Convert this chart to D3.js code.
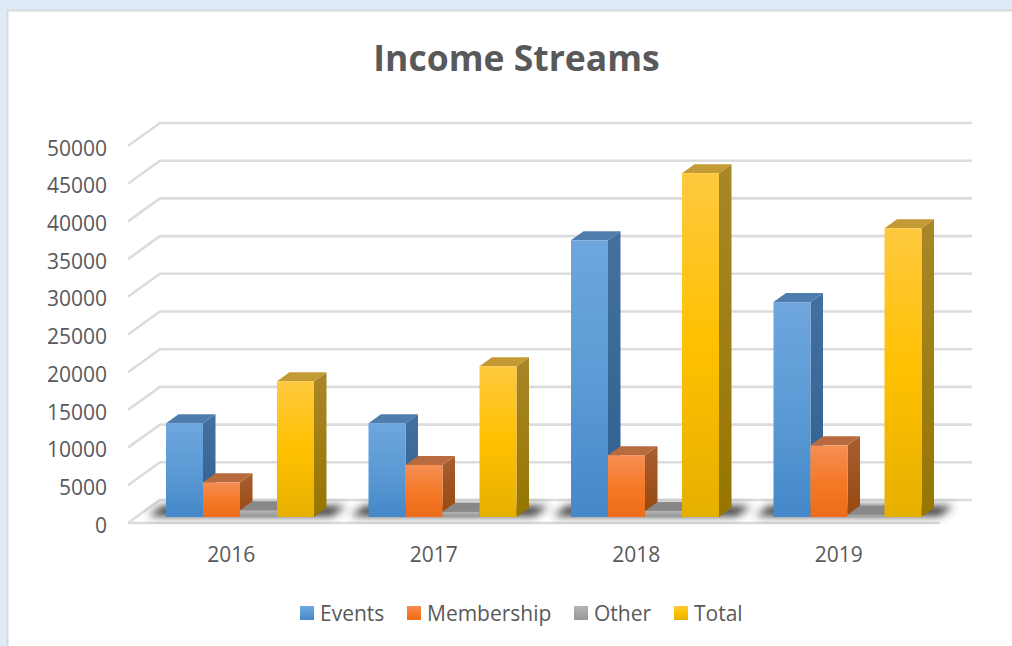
<!DOCTYPE html>
<html>
<head>
<meta charset="utf-8">
<script src="https://cdn.jsdelivr.net/npm/d3@7"></script>
<style>
  html, body { margin: 0; padding: 0; background: #deeaf6; overflow: hidden; }
  text { font-family: "Open Sans", sans-serif; fill: #595959; }
</style>
</head>
<body>
<script>
const categories = ["2016", "2017", "2018", "2019"];
const seriesNames = ["Events", "Membership", "Other", "Total"];
const events = [12450, 12450, 36700, 28500];
const membership = [4600, 6900, 8200, 9500];
const other = [900, 700, 800, 300];
const total = [18000, 20000, 45600, 38300];
const yTicks = [0, 5000, 10000, 15000, 20000, 25000, 30000, 35000, 40000, 45000, 50000];
const seriesValues = [events, membership, other, total];

const width = 1012;
const height = 646;
const depthX = 12.5;
const depthY = 9;

const palette = {
  Events: { front: ["#6fa6de", "#5b9bd5", "#4587c8"], side: ["#44709f", "#2f6090"], top: "#4f7dad" },
  Membership: { front: ["#f58e54", "#f57a28", "#ec6c1a"], side: ["#a85e30", "#98480f"], top: "#b96b40" },
  Other: { front: ["#b5b5b5", "#a5a5a5", "#989898"], side: ["#7c7c7c", "#6e6e6e"], top: "#888888" },
  Total: { front: ["#ffc93f", "#ffc000", "#e6b000"], side: ["#a98628", "#967600"], top: "#c49a35" }
};

const svg = d3.select("body").append("svg")
  .attr("width", width)
  .attr("height", height)
  .style("display", "block");

const defs = svg.append("defs");
defs.append("filter").attr("id", "blur")
  .attr("x", "-20%").attr("y", "-80%").attr("width", "140%").attr("height", "260%")
  .append("feGaussianBlur").attr("stdDeviation", 4);

seriesNames.forEach((name) => {
  const front = defs.append("linearGradient").attr("id", "front-" + name)
    .attr("x1", 0).attr("y1", 0).attr("x2", 0).attr("y2", 1);
  palette[name].front.forEach((c, i) => {
    front.append("stop").attr("offset", i / 2).attr("stop-color", c);
  });
  const side = defs.append("linearGradient").attr("id", "side-" + name)
    .attr("x1", 0).attr("y1", 0).attr("x2", 0).attr("y2", 1);
  palette[name].side.forEach((c, i) => {
    side.append("stop").attr("offset", i).attr("stop-color", c);
  });
});

// panel
svg.append("rect")
  .attr("x", 7.5).attr("y", 10.5)
  .attr("width", width + 20).attr("height", height + 20)
  .attr("fill", "#fff")
  .attr("stroke", "#d9d9d9")
  .attr("stroke-width", 2);

svg.append("text")
  .attr("x", 516.5).attr("y", 71)
  .attr("text-anchor", "middle")
  .attr("font-size", 35.5)
  .attr("font-weight", 700)
  .text("Income Streams");

// scales: front plane for labels, back wall for grid, bar plane for columns
const xBand = d3.scaleBand().domain(categories).range([130, 940]);
const yFront = d3.scaleLinear().domain([0, 50000]).range([523, 146]);
const yBack = d3.scaleLinear().domain([0, 50000]).range([500, 123]);
const yBar = d3.scaleLinear().domain([0, 50000]).range([517, 140]);
const xSeries = d3.scaleBand().domain(seriesNames).range([36, 184]);

const grid = svg.append("g")
  .attr("fill", "none")
  .attr("stroke", "#dcdcdc")
  .attr("stroke-width", 2.6);

grid.selectAll("path")
  .data(yTicks)
  .join("path")
  .attr("d", (d) => `M128,${yFront(d)}L160,${yBack(d)}H972`);

grid.append("line")
  .attr("x1", 128).attr("x2", 940)
  .attr("y1", yFront(0)).attr("y2", yFront(0));

// floor shadows
svg.append("g").selectAll("path")
  .data(categories)
  .join("path")
  .attr("d", (d) => {
    const x0 = xBand(d) + xSeries.range()[0];
    return `M${x0 - 18},516L${x0 - 4},506H${x0 + 180}L${x0 + 166},516Z`;
  })
  .attr("fill", "#333")
  .attr("filter", "url(#blur)");

// columns, left to right so that nearer faces cover the sides
const bars = svg.append("g");
categories.forEach((cat, c) => {
  seriesNames.forEach((name, s) => {
    const v = seriesValues[s][c];
    const x0 = xBand(cat) + xSeries(name);
    const x1 = x0 + xSeries.bandwidth();
    const yTop = yBar(v);
    const yBase = yBar(0);
    const g = bars.append("g");
    g.append("path")
      .attr("d", `M${x1},${yTop}L${x1 + depthX},${yTop - depthY}V${yBase - depthY}L${x1},${yBase}Z`)
      .attr("fill", `url(#side-${name})`);
    g.append("path")
      .attr("d", `M${x0},${yTop}L${x0 + depthX},${yTop - depthY}H${x1 + depthX}L${x1},${yTop}Z`)
      .attr("fill", palette[name].top);
    g.append("rect")
      .attr("x", x0).attr("y", yTop)
      .attr("width", x1 - x0).attr("height", yBase - yTop)
      .attr("fill", `url(#front-${name})`);
  });
});

const yAxis = svg.append("g")
  .attr("transform", "translate(107,2)")
  .call(d3.axisLeft(yFront).tickValues(yTicks).tickFormat(d3.format("d")).tickSize(0).tickPadding(0));
yAxis.select(".domain").remove();
yAxis.selectAll("text").attr("font-size", 21).attr("font-family", null).attr("dy", "0.34em");

const xAxis = svg.append("g")
  .attr("transform", "translate(0,523)")
  .call(d3.axisBottom(xBand).tickSize(0).tickPadding(24));
xAxis.select(".domain").remove();
xAxis.selectAll("text").attr("font-size", 21).attr("font-family", null);

// legend
const legendX = [300, 407, 574, 674];
const legend = svg.append("g").selectAll("g")
  .data(seriesNames)
  .join("g")
  .attr("transform", (d, i) => `translate(${legendX[i]},606)`);
legend.append("rect")
  .attr("width", 14).attr("height", 14)
  .attr("fill", (d) => `url(#front-${d})`);
legend.append("text")
  .attr("x", 20).attr("y", 7)
  .attr("dy", "0.36em")
  .attr("font-size", 21)
  .text((d) => d);
</script>
</body>
</html>
